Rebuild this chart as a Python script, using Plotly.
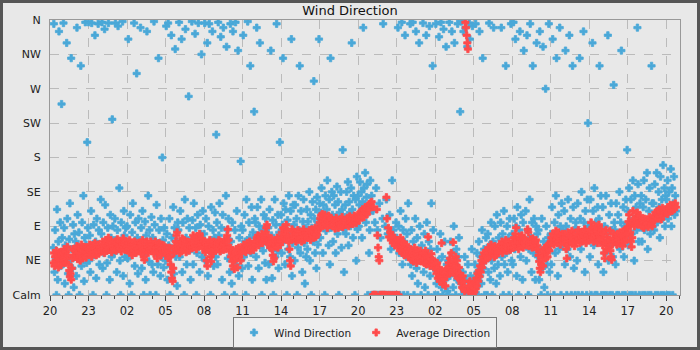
import pandas as pd
import plotly.graph_objects as go

N = None
# Wind direction readings (degrees, 0 = calm), one row per hour, a reading every 3 minutes
wind_rows = [
 [N,N,N,N,N, 62, 355, 30, 85, 48, 0, 112, 20, 70, 345, 55, 95, 38, 250, 75],
 [40, 356, 88, 15, 65, 52, 330, 100, 28, 0, 73, 120, 45, 310, 60, 35, 92, 10, 80, 58],
 [70, 25, 350, 105, 48, 82, 0, 62, 300, 38, 95, 55, 130, 18, 75, 357, 66, 42, 200, 88],
 [357, 45, 78, 30, 110, 356, 60, 0, 92, 52, 340, 70, 22, 100, 65, 355, 85, 40, 58, 125],
 [80, 357, 35, 95, 55, 348, 118, 70, 0, 42, 88, 356, 62, 20, 105, 75, 50, 230, 90, 60],
 [55, 100, 356, 72, 30, 85, 352, 62, 140, 45, 0, 95, 68, 358, 25, 110, 78, 50, 88, 65],
 [90, 48, 335, 70, 15, 105, 60, 0, 82, 120, 55, 356, 38, 95, 68, 290, 75, 28, 100, 58],
 [62, 350, 88, 35, 110, 70, 0, 52, 96, 20, 78, 345, 60, 130, 44, 85, 0, 66, 102, 40],
 [75, 30, 358, 92, 55, 0, 118, 68, 40, 310, 85, 62, 25, 100, 50, 180, 72, 36, 88, 60],
 [45, 352, 80, 20, 356, 65, 100, 0, 38, 340, 75, 55, 115, 28, 88, 322, 50, 70, 12, 95],
 [85, 357, 50, 110, 70, 335, 30, 95, 62, 0, 125, 348, 75, 40, 100, 58, 260, 88, 66, 20],
 [60, 358, 98, 40, 120, 75, 342, 88, 0, 55, 105, 356, 70, 30, 92, 80, 315, 50, 110, 65],
 [80, 356, 45, 100, 62, 330, 25, 90, 355, 70, 0, 115, 55, 345, 85, 38, 75, 108, 50, 210],
 [95, 40, 357, 78, 120, 58, 338, 88, 20, 105, 350, 70, 0, 62, 130, 325, 85, 48, 100, 72],
 [30, 355, 70, 15, 95, 345, 48, 0, 85, 357, 40, 110, 60, 320, 25, 75, 52, 175, 90, 35],
 [85, 340, 50, 105, 70, 0, 125, 60, 358, 38, 95, 75, 300, 55, 115, 20, 82, 65, 240, 100],
 [95, 50, 350, 115, 78, 35, 90, 330, 65, 125, 0, 85, 58, 105, 72, 42, 100, 20, 88, 68],
 [88, 40, 112, 62, 320, 78, 22, 98, 0, 70, 125, 50, 92, 355, 58, 105, 35, 82, 200, 66],
 [105, 55, 92, 310, 120, 72, 40, 112, 85, 0, 98, 60, 130, 80, 50, 110, 335, 25, 68, 118],
 [92, 45, 118, 78, 100, 0, 62, 130, 85, 300, 55, 110, 75, 30, 96, 125, 68, 15, 88, 50],
 [112, 60, 96, 82, 135, 45, 105, 0, 88, 122, 70, 280, 100, 55, 112, 35, 128, 66, 94, 335],
 [120, 75, 108, 140, 92, 55, 118, 100, 0, 130, 84, 112, 150, 96, 65, 125, 40, 310, 88, 135],
 [105, 70, 130, 90, 118, 55, 100, 142, 80, 122, 0, 108, 95, 135, 62, 112, 190, 86, 30, 102],
 [118, 80, 135, 100, 148, 65, 122, 108, 90, 140, 330, 112, 75, 130, 95, 0, 125, 45, 155, 86],
 [130, 90, 118, 148, 105, 135, 75, 122, 350, 140, 112, 160, 95, 128, 145, 0, 108, 55, 85, 150],
 [0, 130, 0, 110, 0, 0, 95, 0, 140, 0, 85, 0, 0, 120, 0, 75, 0, 0, 100, 355],
 [0, 0, 90, 0, 125, 0, 80, 0, 0, 105, 0, 60, 0, 150, 0, 85, 0, 70, 0, 95],
 [75, 0, 350, 90, 55, 0, 110, 65, 357, 40, 85, 0, 70, 340, 100, 50, 80, 0, 120, 60],
 [60, 355, 40, 85, 25, 357, 70, 0, 50, 100, 345, 35, 75, 15, 55, 330, 90, 45, 0, 65],
 [50, 356, 30, 80, 10, 55, 340, 95, 40, 0, 70, 352, 25, 60, 120, 45, 300, 85, 35, 0],
 [35, 355, 15, 60, 0, 45, 338, 25, 80, 357, 10, 50, 0, 348, 30, 70, 20, 325, 40, 5],
 [45, 0, 357, 25, 70, 35, 345, 55, 10, 90, 330, 40, 0, 60, 20, 355, 50, 75, 30, 240],
 [15, 358, 0, 30, 345, 5, 50, 350, 20, 0, 325, 40, 10, 356, 335, 25, 0, 60, 352, 8],
 [20, 0, 40, 355, 10, 55, 30, 0, 70, 345, 25, 50, 15, 85, 310, 35, 60, 0, 45, 75],
 [50, 0, 80, 30, 356, 65, 20, 95, 45, 0, 70, 350, 35, 90, 55, 15, 105, 60, 40, 75],
 [65, 25, 95, 350, 50, 80, 0, 110, 40, 70, 300, 55, 90, 30, 75, 0, 100, 60, 355, 45],
 [80, 40, 357, 100, 60, 335, 90, 25, 115, 70, 0, 85, 345, 50, 105, 75, 20, 95, 320, 65],
 [70, 110, 45, 340, 85, 0, 60, 125, 355, 75, 30, 95, 300, 55, 100, 65, 20, 90, 330, 80],
 [50, 85, 20, 345, 60, 0, 100, 35, 325, 70, 10, 55, 270, 90, 40, 0, 75, 355, 30, 65],
 [80, 40, 115, 335, 70, 0, 95, 55, 130, 310, 75, 25, 105, 60, 350, 90, 0, 120, 65, 85],
 [75, 110, 40, 320, 90, 0, 60, 125, 80, 340, 50, 100, 0, 70, 300, 115, 35, 85, 0, 95],
 [85, 45, 120, 0, 75, 310, 100, 60, 135, 0, 80, 345, 95, 30, 110, 70, 0, 125, 225, 90],
 [90, 50, 125, 0, 80, 330, 110, 65, 140, 0, 95, 75, 0, 115, 40, 100, 300, 85, 130, 0],
 [70, 115, 30, 0, 90, 55, 130, 0, 80, 340, 45, 105, 0, 65, 120, 85, 0, 50, 275, 95],
 [85, 40, 120, 0, 70, 105, 0, 135, 60, 95, 320, 80, 0, 115, 50, 90, 0, 125, 75, 190],
 [110, 65, 140, 0, 95, 125, 80, 0, 150, 100, 45, 130, 0, 115, 85, 350, 145, 70, 0, 120],
 [100, 130, 70, 0, 115, 150, 85, 0, 125, 95, 160, 60, 0, 110, 140, 80, 0, 300, 120, 90],
 [120, 85, 145, 0, 105, 160, 95, 0, 135, 115, 75, 155, 0, 125, 100, 170, 0, 140, 90, 130],
 [125, 0, 150, 100, 135, 0, 115, 165, 90, 140, 0, 120, 155, 105, 130, 110, N, N, N, N],
]

# Average direction (degrees, 0 = calm), one row per hour, a value every 3 minutes
avg_rows = [
 [N, N, N, N, N, 42, 55, 38, 50, 44, 58, 40, 52, 36, 48, 56, 45, 39, 53, 47],
 [54, 46, 60, 50, 42, 57, 48, 63, 52, 40, 32, 24, 28, 20, 35, 48, 60, 52, 58, 50],
 [58, 50, 64, 47, 55, 62, 52, 45, 60, 66, 54, 48, 58, 63, 51, 57, 49, 62, 55, 60],
 [60, 53, 66, 57, 62, 50, 59, 65, 55, 61, 68, 56, 52, 63, 58, 66, 54, 60, 62, 57],
 [63, 57, 70, 60, 66, 55, 68, 72, 58, 64, 61, 75, 59, 66, 62, 70, 56, 64, 68, 60],
 [65, 60, 70, 58, 68, 73, 62, 66, 60, 71, 64, 57, 69, 66, 74, 62, 67, 59, 65, 70],
 [63, 58, 68, 60, 72, 56, 64, 67, 52, 61, 66, 58, 70, 62, 55, 65, 60, 68, 57, 64],
 [62, 68, 56, 64, 72, 60, 50, 46, 62, 66, 58, 70, 63, 55, 67, 60, 64, 70, 58, 62],
 [60, 66, 54, 63, 70, 58, 62, 48, 56, 64, 68, 59, 62, 52, 66, 60, 57, 65, 61, 55],
 [58, 62, 54, 60, 48, 56, 62, 50, 40, 30, 22, 18, 35, 55, 64, 60, 70, 78, 82, 62],
 [60, 66, 55, 70, 62, 57, 74, 65, 60, 72, 63, 68, 56, 64, 70, 61, 66, 58, 69, 64],
 [66, 72, 62, 78, 68, 63, 75, 70, 60, 77, 68, 65, 72, 80, 64, 70, 66, 74, 62, 69],
 [70, 62, 56, 68, 45, 38, 60, 66, 58, 72, 50, 44, 63, 67, 55, 70, 60, 65, 58, 64],
 [64, 68, 60, 72, 66, 57, 70, 64, 62, 68, 59, 66, 72, 63, 60, 70, 78, 86, 72, 62],
 [58, 62, 50, 55, 44, 38, 52, 34, 46, 56, 60, 48, 36, 54, 62, 50, 58, 45, 55, 60],
 [62, 58, 66, 60, 64, 56, 63, 68, 60, 65, 62, 70, 58, 66, 61, 67, 63, 59, 68, 65],
 [70, 66, 75, 70, 78, 65, 73, 69, 76, 72, 80, 68, 74, 78, 71, 76, 82, 88, 92, 78],
 [72, 66, 70, 62, 68, 74, 60, 52, 44, 48, 66, 72, 64, 70, 75, 62, 68, 73, 66, 70],
 [75, 82, 70, 88, 78, 74, 85, 80, 92, 72, 84, 76, 70, 60, 45, 38, 72, 86, 78, 82],
 [78, 74, 82, 70, 80, 76, 85, 72, 79, 74, 83, 76, 70, 80, 75, 86, 72, 78, 81, 76],
 [78, 82, 75, 80, 85, 77, 72, 82, 86, 78, 83, 75, 80, 88, 76, 82, 79, 84, 86, 90],
 [95, 100, 104, 92, 106, 90, 100, 97, 105, 93, 99, 102, 88, 96, 104, 98, 92, 101, 95, 99],
 [94, 90, 98, 92, 87, 96, 101, 91, 95, 88, 97, 93, 99, 90, 94, 102, 89, 96, 92, 98],
 [95, 92, 98, 101, 94, 90, 97, 103, 95, 99, 96, 100, 93, 98, 104, 96, 100, 94, 99, 102],
 [100, 105, 98, 108, 103, 110, 104, 112, 106, 102, 110, 115, 108, 112, 106, 116, 112, 118, 114, 120],
 [118, 122, 115, 0, 0, 0, 0, 0, 0, 112, 78, 62, 50, 45, 0, 0, 0, 0, 0, 0],
 [0, 0, 0, 0, 128, 100, 0, 88, 76, 0, 82, 72, 0, 78, 68, 0, 75, 65, 0, 70],
 [0, 72, 62, 0, 66, 58, 75, 64, 70, 55, 60, 68, 52, 62, 58, 66, 54, 60, 50, 57],
 [56, 50, 60, 46, 54, 58, 44, 52, 62, 48, 55, 42, 50, 57, 45, 53, 48, 58, 44, 51],
 [50, 45, 55, 42, 48, 58, 40, 52, 46, 76, 50, 44, 38, 48, 54, 42, 46, 40, 36, 44],
 [40, 34, 28, 42, 22, 30, 36, 18, 26, 32, 68, 24, 14, 30, 20, 28, 12, 34, 25, 30],
 [35, 42, 28, 48, 36, 55, 30, 40, 69, 44, 32, 26, 50, 38, 45, 30, 22, 36, 28, 20],
 [22, 15, 10, 25, 8, 18, 5, 357, 350, 340, 330, 322, 12, 4, 18, 8, 2, 14, 6, 0],
 [10, 4, 16, 8, 22, 12, 28, 18, 32, 24, 38, 30, 45, 36, 50, 42, 55, 46, 52, 58],
 [52, 58, 48, 62, 55, 50, 60, 66, 54, 58, 62, 56, 50, 64, 57, 52, 60, 55, 63, 58],
 [60, 64, 58, 66, 70, 55, 62, 68, 60, 65, 72, 63, 58, 67, 61, 70, 64, 59, 66, 62],
 [66, 70, 62, 75, 68, 80, 88, 72, 64, 70, 60, 76, 68, 73, 65, 78, 70, 62, 74, 68],
 [68, 72, 65, 70, 86, 82, 64, 68, 73, 66, 70, 62, 74, 67, 71, 63, 69, 72, 60, 65],
 [60, 52, 44, 35, 30, 40, 52, 45, 38, 58, 55, 62, 48, 56, 64, 50, 60, 66, 58, 68],
 [70, 75, 68, 80, 72, 66, 78, 70, 84, 72, 68, 76, 82, 70, 74, 66, 78, 72, 80, 74],
 [74, 68, 80, 72, 60, 48, 70, 82, 66, 74, 78, 70, 76, 84, 68, 72, 78, 64, 74, 70],
 [76, 80, 72, 85, 74, 68, 78, 82, 75, 70, 80, 77, 72, 86, 76, 68, 80, 74, 78, 82],
 [78, 85, 72, 95, 80, 76, 88, 70, 82, 78, 90, 75, 84, 68, 80, 92, 76, 82, 74, 86],
 [72, 65, 80, 55, 48, 68, 85, 60, 76, 70, 62, 72, 84, 58, 50, 46, 66, 74, 80, 70],
 [74, 70, 78, 66, 80, 72, 76, 68, 82, 74, 70, 78, 64, 76, 84, 70, 86, 78, 72, 80],
 [88, 96, 105, 92, 82, 70, 63, 75, 110, 98, 90, 100, 94, 102, 97, 108, 92, 100, 96, 104],
 [92, 96, 90, 98, 94, 88, 100, 95, 91, 97, 93, 99, 89, 95, 102, 92, 98, 94, 90, 97],
 [100, 104, 98, 108, 102, 106, 110, 100, 105, 112, 103, 108, 99, 106, 114, 104, 110, 107, 112, 108],
 [108, 112, 106, 115, 110, 114, 118, 112, 116, 110, 114, 118, 112, 116, 120, 115, N, N, N, N],
]

start_time = "2024-05-01 20:00"
dir_values = [0, 45, 90, 135, 180, 225, 270, 315, 360]
dir_labels = ["Calm", "NE", "E", "SE", "S", "SW", "W", "NW", "N"]

t0 = pd.Timestamp(start_time)

def flatten(rows, step_min):
    xs, ys = [], []
    for h, row in enumerate(rows):
        for i, v in enumerate(row):
            if v is None:
                continue
            xs.append(t0 + pd.Timedelta(hours=h, minutes=i * step_min))
            ys.append(v)
    return xs, ys

wx, wy = flatten(wind_rows, 3)
ax_, ay = flatten(avg_rows, 3)

BLUE = "#4aa8d8"
RED = "#ff4b4b"
FONT = "DejaVu Sans"

fig = go.Figure()
fig.add_trace(go.Scatter(x=wx, y=wy, mode="markers", name="Wind Direction",
                         marker=dict(symbol="cross", size=6, color=BLUE, line=dict(width=0.8, color=BLUE))))
fig.add_trace(go.Scatter(x=ax_, y=ay, mode="markers", name="Average Direction",
                         marker=dict(symbol="cross", size=6, color=RED, line=dict(width=0.8, color=RED))))

fig.update_layout(
    width=700, height=350,
    margin=dict(l=50, r=20, t=20, b=55, autoexpand=False),
    paper_bgcolor="#e8e8e8", plot_bgcolor="#e8e8e8",
    font=dict(family=FONT, size=11, color="#222222"),
    title=dict(text="Wind Direction", x=0.5, xanchor="center", y=0.97, yanchor="middle",
               font=dict(family=FONT, size=13, color="#111111")),
    showlegend=True,
    legend=dict(orientation="h", x=0.5, xanchor="center", y=-0.08, yanchor="top",
                bgcolor="#eeeeee", bordercolor="#777777", borderwidth=1,
                font=dict(family=FONT, size=10.5, color="#222222")),
    shapes=[dict(type="rect", xref="paper", yref="paper",
                 x0=-48.5/630, x1=648.5/630, y0=-53.5/275, y1=1 + 18.5/275,
                 line=dict(color="#555555", width=3), fillcolor="rgba(0,0,0,0)", layer="below")],
)

fig.update_xaxes(
    type="date",
    range=[t0, t0 + pd.Timedelta(hours=49, minutes=4)],
    dtick=3 * 3600 * 1000, tick0=t0, tickformat="%H",
    ticks="outside", ticklen=5, tickcolor="#444444", tickwidth=1,
    minor=dict(dtick=3600 * 1000, ticks="outside", ticklen=3, tickcolor="#444444", showgrid=False),
    showgrid=True, gridcolor="#bbbbbb", griddash="dash", gridwidth=1,
    showline=True, linecolor="#999999", linewidth=1, mirror=True,
    zeroline=False, tickfont=dict(family=FONT, size=11.5, color="#222222"),
)
fig.update_yaxes(
    range=[0, 360], tickvals=dir_values, ticktext=dir_labels,
    ticks="outside", ticklen=6, tickcolor="rgba(0,0,0,0)",
    showgrid=True, gridcolor="#bbbbbb", griddash="dash", gridwidth=1,
    showline=True, linecolor="#999999", linewidth=1, mirror=True,
    zeroline=False, tickfont=dict(family=FONT, size=11, color="#222222"),
)

fig.write_html("out.html")
